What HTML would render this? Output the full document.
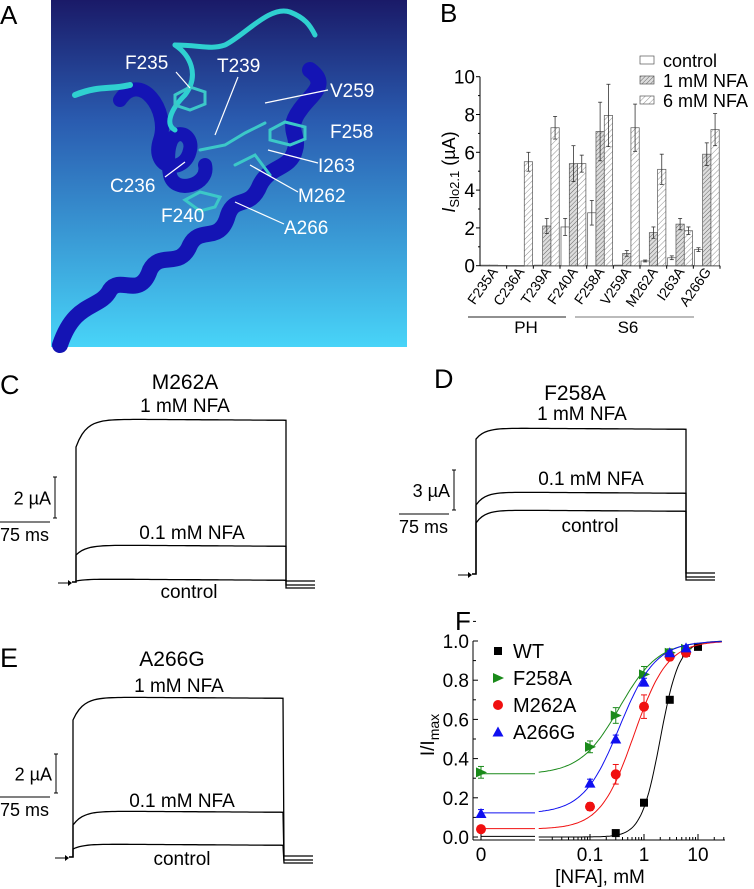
<!DOCTYPE html>
<html><head><meta charset="utf-8">
<style>
html,body{margin:0;padding:0;background:#fff;}
svg{display:block;font-family:"Liberation Sans",Arial,sans-serif;}
</style></head>
<body>
<svg id="fig" width="754" height="889" viewBox="0 0 754 889">
<defs>
<linearGradient id="bg" x1="0" y1="0" x2="0" y2="1">
<stop offset="0" stop-color="#1a1a68"/><stop offset="0.35" stop-color="#2a5cb0"/><stop offset="1" stop-color="#48d4f8"/>
</linearGradient>
<pattern id="h1" width="3" height="3" patternUnits="userSpaceOnUse" patternTransform="rotate(45)">
<rect width="3" height="3" fill="#ddd"/><line x1="0" y1="0" x2="0" y2="3" stroke="#666" stroke-width="1"/></pattern>
<pattern id="h2" width="4" height="4" patternUnits="userSpaceOnUse" patternTransform="rotate(45)">
<rect width="4" height="4" fill="#fff"/><line x1="0" y1="0" x2="0" y2="4" stroke="#777" stroke-width="0.8"/></pattern>
</defs>

<!-- Panel A -->
<g>
<text x="0" y="24" font-size="26">A</text>
<rect x="51" y="0" width="356" height="347" fill="url(#bg)"/>
<g fill="none" stroke-linecap="round">
<path d="M60,345 C75,300 100,310 110,290 C120,275 140,300 150,270 C160,250 180,270 190,245 C200,225 220,245 228,215 C235,195 250,210 260,185 C270,165 290,170 295,150 C300,135 285,130 300,110 C310,95 330,85 310,70" stroke="#1414b4" stroke-width="16"/>
<path d="M120,100 C140,70 170,110 160,140 C150,170 185,175 190,150 C195,130 160,120 170,175 C175,195 210,185 205,165" stroke="#1414b4" stroke-width="14"/>
<path d="M75,95 C100,85 110,90 130,85" stroke="#2fd0d0" stroke-width="6"/>
<path d="M175,45 C200,45 210,50 225,45 C245,35 270,5 290,12 C305,18 310,25 315,35" stroke="#2fd0d0" stroke-width="5"/>
<path d="M175,45 C190,55 200,75 185,95 C170,110 165,125 175,130" stroke="#2fd0d0" stroke-width="5"/>
<g stroke="#3cc8c8" stroke-width="3">
<path d="M175,95 l15,-8 l15,5 l0,12 l-15,6 l-15,-5z"/>
<path d="M270,130 l15,-8 l20,5 l0,12 l-15,6 l-20,-5z"/>
<path d="M185,200 l15,-8 l20,5 l-5,10 l-15,4z"/>
<path d="M200,150 l25,-5 l20,-12 l20,-10 M235,165 l20,-10 l15,20"/>
</g></g>
<g fill="#fff" font-size="19">
<text x="125" y="69">F235</text><text x="217" y="72">T239</text><text x="330" y="97">V259</text>
<text x="330" y="138">F258</text><text x="318" y="172">I263</text><text x="110" y="192">C236</text>
<text x="298" y="202">M262</text><text x="161" y="222">F240</text><text x="284" y="234">A266</text>
</g>
<g stroke="#fff" stroke-width="1.2">
<line x1="176" y1="72" x2="190" y2="88"/><line x1="238" y1="77" x2="215" y2="135"/><line x1="328" y1="90" x2="265" y2="103"/>
<line x1="318" y1="163" x2="268" y2="150"/><line x1="165" y1="177" x2="185" y2="162"/><line x1="298" y1="192" x2="250" y2="165"/><line x1="284" y1="224" x2="235" y2="202"/>
</g>
</g>

<!-- Panel B -->
<g id="panelB">
<text x="440" y="22" font-size="26">B</text>
</g>

<!-- Traces C D E -->
<g id="traces"></g>

<!-- Panel F -->
<g id="panelF">
<text x="455" y="630" font-size="26">F</text>
</g>
</svg>

<script>
const NS="http://www.w3.org/2000/svg";
function mk(parent,tag,attrs,txt){const e=document.createElementNS(NS,tag);for(const k in attrs)e.setAttribute(k,attrs[k]);if(txt!==undefined)e.textContent=txt;parent.appendChild(e);return e;}

/* ---------- Panel B data ---------- */
const bCategories=["F235A","C236A","T239A","F240A","F258A","V259A","M262A","I263A","A266G"];
const bControl=[0.03,0,0.03,2.05,2.8,0.03,0.25,0.42,0.85];
const bNFA1=[0.03,0,2.1,5.4,7.1,0.65,1.75,2.2,5.9];
const bNFA6=[0.02,5.5,7.3,5.4,7.95,7.3,5.1,1.85,7.2];
const bErrControl=[0,0,0,0.45,0.65,0,0.05,0.1,0.1];
const bErrNFA1=[0,0,0.4,0.95,1.55,0.15,0.3,0.3,0.6];
const bErrNFA6=[0,0.5,0.6,0.45,1.65,1.25,0.8,0.2,0.85];
const bTicks=[0,2,4,6,8,10];

/* ---------- Panel F data ---------- */
const fConc=[0,0.1,0.3,1,3,6,10];
const fWT=[null,null,0.02,0.175,0.70,0.94,0.97];
const fF258A=[0.33,0.46,0.62,0.83,0.94,0.96,null];
const fM262A=[0.04,0.155,0.32,0.665,0.92,0.94,null];
const fA266G=[0.12,0.275,0.50,0.79,0.94,0.965,null];
const fErrF258A=[0.03,0.03,0.04,0.04,0.02,0.01,null];
const fErrM262A=[0.01,0.02,0.05,0.06,0.02,0.01,null];
const fErrA266G=[0.02,0.02,0.02,0.02,0.01,0.01,null];
const fYTicks=[0,0.2,0.4,0.6,0.8,1.0];
const fXTicks=["0","0.1","1","10"];
/* Hill fit parameters: base, EC50, n */
const fFitWT=[0,2.0,2.5];
const fFitF258A=[0.32,0.35,1.2];
const fFitM262A=[0.04,0.65,1.4];
const fFitA266G=[0.12,0.35,1.3];

/* ---------- Panel B draw ---------- */
(function(){
const g=document.getElementById('panelB');
const y0=265.7, yTop=76.7, xL=480, xR=720;
const yS=v=>y0-(v/10)*(y0-yTop);
const gw=(xR-xL)/bCategories.length, bw=8.3;
const ax=mk(g,'g',{});

mk(ax,'line',{x1:xL,y1:y0,x2:xR,y2:y0,stroke:'#000','stroke-width':1});
mk(ax,'line',{x1:xL,y1:y0,x2:xL,y2:yTop,stroke:'#000','stroke-width':1});
bTicks.forEach(t=>{const y=yS(t);
 mk(ax,'line',{x1:xL-4,y1:y,x2:xL,y2:y,stroke:'#000'});
 if(t<10)mk(ax,'line',{x1:xL-2,y1:yS(t+1),x2:xL,y2:yS(t+1),stroke:'#000'});
 const tx=mk(ax,'text',{x:xL-5,y:y+7,'font-size':19,'text-anchor':'end'},String(t));
 
});
const yl=mk(g,'text',{transform:'translate(455,172) rotate(-90)','font-size':18,'text-anchor':'middle'});

yl.innerHTML='<tspan font-style="italic">I</tspan><tspan font-size="13" dy="4">Slo2.1</tspan><tspan dy="-4"> (µA)</tspan>';
const series=[[bControl,bErrControl,'#fff','control'],[bNFA1,bErrNFA1,'url(#h1)','1mM'],[bNFA6,bErrNFA6,'url(#h2)','6mM']];
bCategories.forEach((c,i)=>{
 const gx=xL+1+i*gw;
 series.forEach((s,j)=>{
  const v=s[0][i],e=s[1][i];const x=gx+j*bw;const y=yS(v);
  const r=mk(g,'rect',{x:x,y:y,width:bw,height:Math.max(0.5,y0-y),fill:s[2],stroke:'#555','stroke-width':0.7});
  
  if(e>0){const cx=x+bw/2;
   mk(g,'line',{x1:cx,y1:yS(v+e),x2:cx,y2:yS(v-e),stroke:'#333','stroke-width':0.8});
   mk(g,'line',{x1:cx-2,y1:yS(v+e),x2:cx+2,y2:yS(v+e),stroke:'#333','stroke-width':0.8});
   mk(g,'line',{x1:cx-2,y1:yS(v-e),x2:cx+2,y2:yS(v-e),stroke:'#333','stroke-width':0.8});}
 });
 mk(ax,'line',{x1:gx+gw-1,y1:y0,x2:gx+gw-1,y2:y0+3,stroke:'#000'});
 const lx=gx+gw/2+4;
 const t=mk(g,'text',{x:0,y:0,'font-size':14,'text-anchor':'end',transform:`translate(${lx},${y0+6}) rotate(-55)`},c);
 
});
mk(g,'line',{x1:468,y1:317,x2:566,y2:317,stroke:'#222','stroke-width':1});
mk(g,'line',{x1:575,y1:317,x2:694,y2:317,stroke:'#777','stroke-width':1});
const ph=mk(g,'text',{x:526,y:333,'font-size':17,'text-anchor':'middle'},'PH');
const s6=mk(g,'text',{x:628,y:333,'font-size':17,'text-anchor':'middle'},'S6');
const leg=[['#fff','control',60],['url(#h1)','1 mM NFA',80],['url(#h2)','6 mM NFA',100]];
leg.forEach(l=>{
 const lg=mk(g,'g',{});
 
 mk(lg,'rect',{x:640,y:l[2]-4,width:14,height:8,fill:l[0],stroke:'#555','stroke-width':0.7});
 mk(lg,'text',{x:663,y:l[2]+7,'font-size':18},l[1]);
});
})();

/* ---------- Traces ---------- */
(function(){
const g=document.getElementById('traces');
function trace(x0,x1,base,yStart,ySteady,tail,k){
 let d=`M${x0-4},${base} L${x0},${base} L${x0},${yStart}`;
 for(let x=x0;x<=x1;x+=3){const f=1-Math.exp(-(x-x0)/k);d+=` L${x},${(yStart+(ySteady-yStart)*f+(x-x0)*0.006).toFixed(1)}`;}
 d+=` L${x1},${tail} L${x1+29},${tail}`;
 const p=mk(g,'path',{d:d,fill:'none',stroke:'#000','stroke-width':1.3});
 
}
function panel(P){
 const pg=mk(g,'g',{});
 
 mk(pg,'text',{x:P.lx,y:P.ly,'font-size':27},P.id.toUpperCase());
 mk(pg,'text',{x:P.tx,y:P.ty,'font-size':21,'text-anchor':'middle'},P.title);
 mk(pg,'text',{x:P.t1x,y:P.t1y,'font-size':19,'text-anchor':'middle'},'1 mM NFA');
 mk(pg,'text',{x:P.t2x,y:P.t2y,'font-size':19,'text-anchor':'middle'},'0.1 mM NFA');
 mk(pg,'text',{x:P.t3x,y:P.t3y,'font-size':19,'text-anchor':'middle'},'control');
 P.tr.forEach((t,i)=>trace(P.x0,P.x1,P.base,t[0],t[1],P.base+[-3,1,4][i]+2,P.k));
 mk(pg,'line',{x1:P.x0-18,y1:P.base+1,x2:P.x0-8,y2:P.base+1,stroke:'#000','stroke-width':1});
 mk(pg,'path',{d:`M${P.x0-8},${P.base-2} L${P.x0-4},${P.base+1} L${P.x0-8},${P.base+4}z`,fill:'#000'});
 mk(pg,'line',{x1:P.sv,y1:P.sy0,x2:P.sv,y2:P.sy1,stroke:'#000','stroke-width':1});
 mk(pg,'line',{x1:P.sv-2,y1:P.sy0,x2:P.sv+2,y2:P.sy0,stroke:'#000'});
 mk(pg,'line',{x1:P.sv-2,y1:P.sy1,x2:P.sv+2,y2:P.sy1,stroke:'#000'});
 mk(pg,'line',{x1:P.sh0,y1:P.sy1+4,x2:P.sh0+50,y2:P.sy1+4,stroke:'#000'});
 mk(pg,'text',{x:P.sv-4,y:(P.sy0+P.sy1)/2+7,'font-size':18,'text-anchor':'end'},P.scale);
 mk(pg,'text',{x:P.sh0,y:P.sy1+23,'font-size':18},'75 ms');
}
panel({id:'c',lx:0,ly:394,title:'M262A',tx:185,ty:389,t1x:185,t1y:412,t2x:192,t2y:539,t3x:189,t3y:598,
 x0:76,x1:286,base:582,k:10,tr:[[447,419],[555,545],[581,579]],sv:55,sy0:477,sy1:518,sh0:0,scale:'2 µA'});
panel({id:'d',lx:434,ly:388,title:'F258A',tx:575,ty:400,t1x:582,t1y:420,t2x:591,t2y:485,t3x:590,t3y:532,
 x0:476,x1:686,base:574,k:9,tr:[[439,428],[505,492],[523,510]],sv:454,sy0:470,sy1:510,sh0:399,scale:'3 µA'});
panel({id:'e',lx:0,ly:667,title:'A266G',tx:172,ty:666,t1x:179,t1y:692,t2x:182,t2y:807,t3x:182,t3y:865,
 x0:73,x1:284,base:857,k:10,tr:[[720,697],[825,811],[849,844]],sv:56,sy0:754,sy1:793,sh0:0,scale:'2 µA'});
})();

/* ---------- Panel F draw ---------- */
(function(){
const g=document.getElementById('panelF');
const yS=v=>837-196*v;
const xS=c=>c===0?481:644+54*Math.log10(c);
const ax=mk(g,'g',{});

mk(ax,'line',{x1:473,y1:641,x2:473,y2:840,stroke:'#000'});
mk(ax,'line',{x1:473,y1:840,x2:535,y2:840,stroke:'#000'});
mk(ax,'line',{x1:539,y1:840,x2:725,y2:840,stroke:'#000'});
fYTicks.forEach(t=>{const y=yS(t);
 mk(ax,'line',{x1:473,y1:y,x2:478,y2:y,stroke:'#000'});
 mk(ax,'line',{x1:473,y1:yS(t+0.1),x2:476,y2:yS(t+0.1),stroke:'#000'});
 const tx=mk(ax,'text',{x:469,y:y+7,'font-size':19,'text-anchor':'end'},t.toFixed(1));
 
});
fXTicks.forEach(l=>{const x=xS(parseFloat(l));
 mk(ax,'line',{x1:x,y1:840,x2:x,y2:834,stroke:'#000'});
 const tx=mk(ax,'text',{x:x,y:861,'font-size':19,'text-anchor':'middle'},l);
 
});
[0.02,0.03,0.04,0.05,0.06,0.07,0.08,0.09,0.2,0.3,0.4,0.5,0.6,0.7,0.8,0.9,2,3,4,5,6,7,8,9,20,30].forEach(c=>{const x=xS(c);if(x>538&&x<726)mk(ax,'line',{x1:x,y1:840,x2:x,y2:837,stroke:'#000'});});
const yl=mk(g,'text',{transform:'translate(434,735) rotate(-90)','font-size':19,'text-anchor':'middle'});

yl.innerHTML='I/I<tspan font-size="14" dy="5">max</tspan>';
const xl=mk(g,'text',{x:600,y:883,'font-size':19,'text-anchor':'middle'},'[NFA], mM');


const series=[['WT',fWT,null,fFitWT,'#000','sq'],['F258A',fF258A,fErrF258A,fFitF258A,'#1a8a1a','tri-r'],['M262A',fM262A,fErrM262A,fFitM262A,'#f01010','circ'],['A266G',fA266G,fErrA266G,fFitA266G,'#1010f0','tri-u']];
function marker(p,shape,x,y,col){
 let m;
 if(shape==='sq')m=mk(p,'rect',{x:x-4,y:y-4,width:8,height:8,fill:col});
 else if(shape==='circ')m=mk(p,'circle',{cx:x,cy:y,r:5,fill:col});
 else if(shape==='tri-r')m=mk(p,'path',{d:`M${x-5},${y-5} L${x+6},${y} L${x-5},${y+5}z`,fill:col});
 else m=mk(p,'path',{d:`M${x-5.5},${y+4.5} L${x},${y-5.5} L${x+5.5},${y+4.5}z`,fill:col});
 return m;
}
series.forEach((s,si)=>{
 const sg=mk(g,'g',{});
 
 const [b,ec,n]=s[3];const hill=c=>b+(1-b)/(1+Math.pow(ec/c,n));
 mk(sg,'line',{x1:481,y1:yS(b+0.003),x2:535,y2:yS(b+0.003),stroke:s[4],'stroke-width':1});
 let d='';for(let lc=-1.95;lc<=1.47;lc+=0.03){const c=Math.pow(10,lc);d+=(d?' L':'M')+xS(c).toFixed(1)+','+yS(hill(c)).toFixed(1);}
 mk(sg,'path',{d:d,fill:'none',stroke:s[4],'stroke-width':1});
 fConc.forEach((c,i)=>{const v=s[1][i];if(v===null)return;const x=xS(c),y=yS(v);
  if(s[2]&&s[2][i]){const e=s[2][i];
   mk(sg,'line',{x1:x,y1:yS(v+e),x2:x,y2:yS(v-e),stroke:s[4]});
   mk(sg,'line',{x1:x-3,y1:yS(v+e),x2:x+3,y2:yS(v+e),stroke:s[4]});
   mk(sg,'line',{x1:x-3,y1:yS(v-e),x2:x+3,y2:yS(v-e),stroke:s[4]});}
  const m=marker(sg,s[5],x,y,s[4]);
  
 });
 const lg=mk(g,'g',{});
 
 const ly=651+si*27;
 marker(lg,s[5],498,ly,s[4]);
 mk(lg,'text',{x:513,y:ly+7,'font-size':20},s[0]);
});
})();
</script>
</body></html>
